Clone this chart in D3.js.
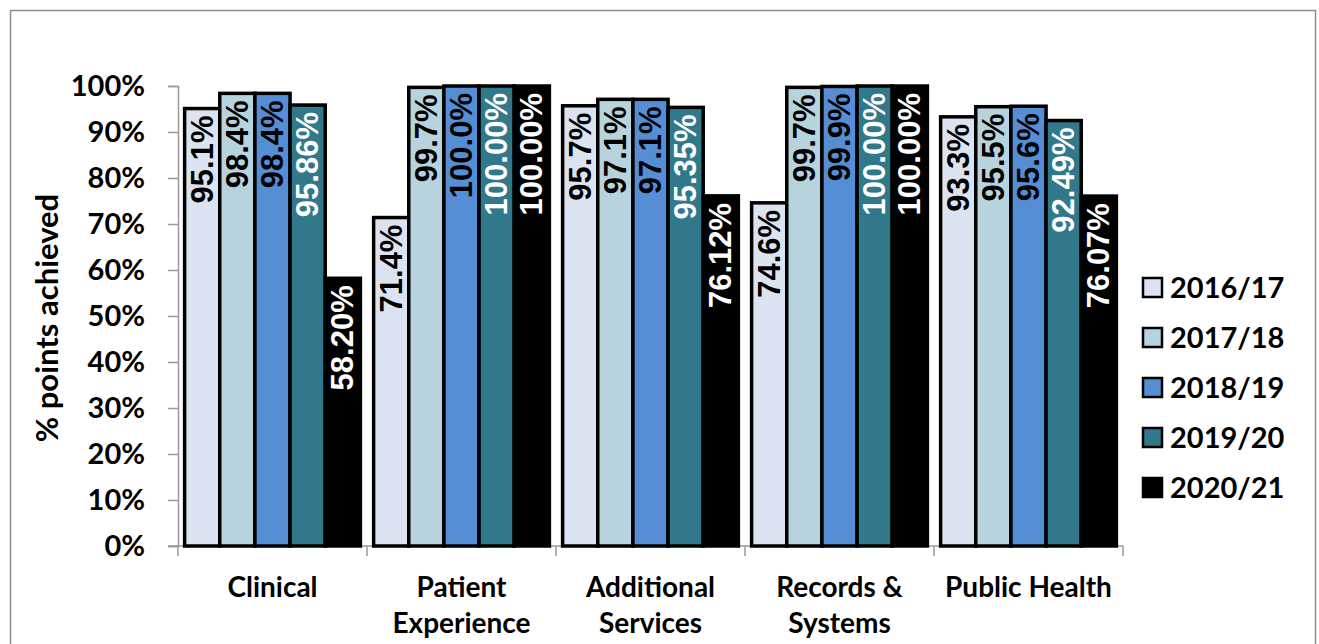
<!DOCTYPE html>
<html>
<head>
<meta charset="utf-8">
<script src="https://cdn.jsdelivr.net/npm/d3@7"></script>
<style>
  html, body { margin: 0; padding: 0; background: #fff; }
  svg { display: block; }
</style>
</head>
<body>
<svg id="chart" width="1319" height="644"></svg>
<script>
const categories = [["Clinical"], ["Patient", "Experience"], ["Additional", "Services"], ["Records &", "Systems"], ["Public Health"]];
const seriesNames = ["2016/17", "2017/18", "2018/19", "2019/20", "2020/21"];
const values2016 = [95.1, 71.4, 95.7, 74.6, 93.3];
const values2017 = [98.4, 99.7, 97.1, 99.7, 95.5];
const values2018 = [98.4, 100.0, 97.1, 99.9, 95.6];
const values2019 = [95.86, 100.00, 95.35, 100.00, 92.49];
const values2020 = [58.20, 100.00, 76.12, 100.00, 76.07];
const labels2016 = ["95.1%", "71.4%", "95.7%", "74.6%", "93.3%"];
const labels2017 = ["98.4%", "99.7%", "97.1%", "99.7%", "95.5%"];
const labels2018 = ["98.4%", "100.0%", "97.1%", "99.9%", "95.6%"];
const labels2019 = ["95.86%", "100.00%", "95.35%", "100.00%", "92.49%"];
const labels2020 = ["58.20%", "100.00%", "76.12%", "100.00%", "76.07%"];
const yTicks = [0, 10, 20, 30, 40, 50, 60, 70, 80, 90, 100];

const seriesValues = [values2016, values2017, values2018, values2019, values2020];
const seriesLabels = [labels2016, labels2017, labels2018, labels2019, labels2020];
const colors = ["#dbe3f0", "#b7d4de", "#558ed5", "#31788a", "#000000"];
const labelColors = ["#000", "#000", "#000", "#fff", "#fff"];

const svg = d3.select("#chart");

// outer frame
svg.append("rect").attr("x", 10.5).attr("y", 10.5).attr("width", 1305).attr("height", 700)
  .attr("fill", "none").attr("stroke", "#8c8c8c").attr("stroke-width", 1.5);

const x0 = d3.scaleBand().domain(d3.range(categories.length)).range([178, 1123]).paddingInner(0.07).paddingOuter(0.035);
const x1 = d3.scaleBand().domain(d3.range(seriesNames.length)).range([0, x0.bandwidth()]);
const y = d3.scaleLinear().domain([0, 100]).range([546, 86]);

const tickFont = "Lato, 'Open Sans', sans-serif";

// y axis
const yAxis = d3.axisLeft(y).tickValues(yTicks).tickSize(10).tickFormat(d => d + "%");
const yg = svg.append("g").attr("transform", "translate(178,0)").call(yAxis);
yg.select(".domain").attr("stroke", "#9a9a9a").attr("stroke-width", 1.5);
yg.selectAll(".tick line").attr("stroke", "#9a9a9a").attr("stroke-width", 1.5);
yg.selectAll(".tick text").attr("x", -33).attr("font-family", tickFont).attr("font-weight", 700)
  .attr("font-size", 29).attr("fill", "#000");

// x axis
const xg = svg.append("g").attr("transform", "translate(0,546)");
xg.append("line").attr("x1", 168).attr("x2", 1123).attr("y1", 0).attr("y2", 0)
  .attr("stroke", "#9a9a9a").attr("stroke-width", 1.5);
const boundaries = d3.range(categories.length + 1).map(i => 178 + i * x0.step());
xg.selectAll("line.b").data(boundaries).join("line").attr("class", "b")
  .attr("x1", d => d).attr("x2", d => d).attr("y1", 0).attr("y2", 10)
  .attr("stroke", "#9a9a9a").attr("stroke-width", 1.5);

// category labels
categories.forEach((lines, i) => {
  const t = svg.append("text").attr("x", x0(i) + x0.bandwidth() / 2).attr("y", 597)
    .attr("text-anchor", "middle").attr("font-family", tickFont).attr("font-weight", 700)
    .attr("font-size", 28).attr("fill", "#000");
  lines.forEach((ln, j) => {
    t.append("tspan").attr("x", x0(i) + x0.bandwidth() / 2).attr("dy", j === 0 ? 0 : 36).text(ln);
  });
});

// bars
const groups = svg.append("g").selectAll("g").data(categories).join("g")
  .attr("transform", (d, i) => `translate(${x0(i)},0)`);

seriesNames.forEach((s, si) => {
  groups.append("rect")
    .attr("x", (d, i) => x1(si))
    .attr("y", (d, i) => y(seriesValues[si][i]))
    .attr("width", x1.bandwidth())
    .attr("height", (d, i) => y(0) - y(seriesValues[si][i]))
    .attr("fill", colors[si]).attr("stroke", "#000").attr("stroke-width", 3.5);
});

seriesNames.forEach((s, si) => {
  groups.append("text")
    .attr("transform", (d, i) => `translate(${x1(si) + x1.bandwidth() / 2},${y(seriesValues[si][i]) + 7}) rotate(-90)`)
    .attr("text-anchor", "end").attr("dominant-baseline", "central")
    .attr("font-family", "'Liberation Sans', Arial, sans-serif").attr("font-weight", 700)
    .attr("font-size", 31).attr("fill", labelColors[si])
    .text((d, i) => seriesLabels[si][i]);
});

// legend
const legend = svg.append("g");
seriesNames.forEach((s, si) => {
  const ly = 288 + si * 50;
  legend.append("rect").attr("x", 1143).attr("y", ly - 10).attr("width", 19).attr("height", 19)
    .attr("fill", colors[si]).attr("stroke", "#000").attr("stroke-width", 2.5);
  legend.append("text").attr("x", 1170).attr("y", ly + 10).attr("font-family", tickFont)
    .attr("font-weight", 700).attr("font-size", 29).attr("fill", "#000").text(s);
});

// y-axis title
svg.append("text").attr("transform", "translate(58,318) rotate(-90)").attr("text-anchor", "middle")
  .attr("font-family", tickFont).attr("font-weight", 700).attr("font-size", 31).attr("fill", "#000")
  .text("% points achieved");
</script>
</body>
</html>
